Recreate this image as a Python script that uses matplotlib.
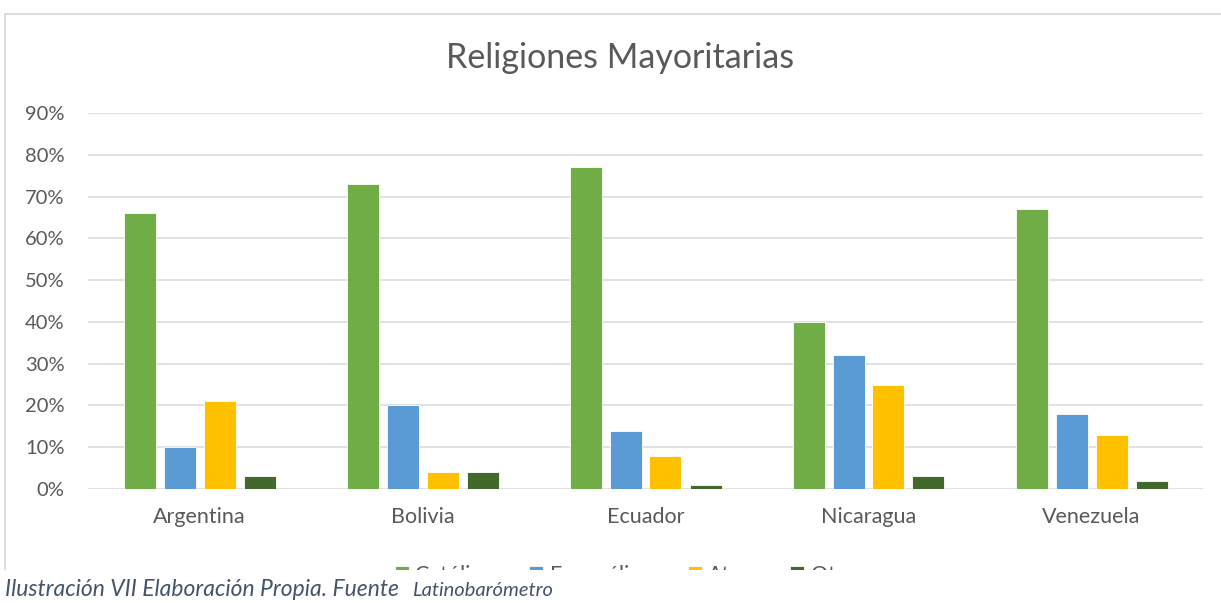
import numpy as np
import matplotlib.pyplot as plt
from matplotlib.patches import Rectangle
from matplotlib.transforms import Bbox, TransformedBbox

# data
paises = ['Argentina', 'Bolivia', 'Ecuador', 'Nicaragua', 'Venezuela']
series = ['Católicos', 'Evangélicos', 'Ateos', 'Otros']
catolicos = [66, 73, 77, 40, 67]
evangelicos = [10, 20, 14, 32, 18]
ateos = [21, 4, 8, 25, 13]
otros = [3, 4, 1, 3, 2]
yticks = [0, 10, 20, 30, 40, 50, 60, 70, 80, 90]

colores = ['#70AD47', '#5B9BD5', '#FFC000', '#43682B']
gris = '#595959'
plt.rcParams['font.family'] = ['Lato', 'DejaVu Sans']

W, H = 1221, 603
fig = plt.figure(figsize=(W / 100, H / 100), dpi=100)
ax = fig.add_axes([88 / W, 1 - 489 / H, (1203 - 88) / W, (489 - 113) / H])

x = np.arange(len(paises))
bw = 32 / 223
step = 40 / 223
for i, vals in enumerate([catolicos, evangelicos, ateos, otros]):
    off = (i - 1.5) * step
    ax.bar(x + off, np.array(vals) / 100, width=bw, color=colores[i],
           edgecolor='white', linewidth=0.6, label=series[i], zorder=3)

ax.set_xlim(-0.5, len(paises) - 0.5)
ax.set_ylim(0, 0.9)
ax.set_yticks(np.array(yticks) / 100)
ax.set_yticklabels([f'{t}%' for t in yticks])
ax.set_xticks(x)
ax.set_xticklabels(paises)
ax.grid(axis='y', color='#d9d9d9', linewidth=1.1, zorder=0)
for s in ax.spines.values():
    s.set_visible(False)
ax.tick_params(axis='y', length=0, pad=17, labelsize=14.5, labelcolor=gris)
ax.tick_params(axis='x', length=0, pad=13, labelsize=15.5, labelcolor=gris)

fig.text(620 / W, 1 - 58 / H, 'Religiones Mayoritarias', ha='center', va='center',
         fontsize=24.5, color=gris)

# chart frame
fig.add_artist(Rectangle((5 / W, 0), 1.2, 1 - 14 / H, transform=fig.transFigure,
                         facecolor='none', edgecolor='#d9d9d9', linewidth=1.3, zorder=1))

# legend (cut off by the page at y=570 px)
leg = fig.legend(loc='center left', bbox_to_anchor=(395 / W, 1 - 575 / H), ncol=4,
                 frameon=False, fontsize=15.5, labelcolor=gris, handlelength=0.65,
                 handleheight=0.65, handletextpad=0.3, columnspacing=1.25,
                 borderpad=0, borderaxespad=0)
corte = TransformedBbox(Bbox([[0, 1 - 570 / H], [1, 1]]), fig.transFigure)
for t in leg.get_texts():
    t.set_clip_box(corte)
    t.set_clip_on(True)
for h in leg.legend_handles:
    h.set_clip_box(corte)
    h.set_clip_on(True)

fig.add_artist(Rectangle((0, 0), 1, 1 - 570 / H, transform=fig.transFigure,
                         facecolor='white', edgecolor='none', zorder=20))

cap = '#44546A'
fig.text(5 / W, 1 - 589 / H, 'Ilustración VII Elaboración Propia. Fuente', ha='left',
         va='center', fontsize=16.5, style='italic', color=cap, zorder=21)
fig.text(412 / W, 1 - 590 / H, 'Latinobarómetro', ha='left', va='center',
         fontsize=14.5, style='italic', color=cap, zorder=21)

fig.savefig('out.png', dpi=100)
